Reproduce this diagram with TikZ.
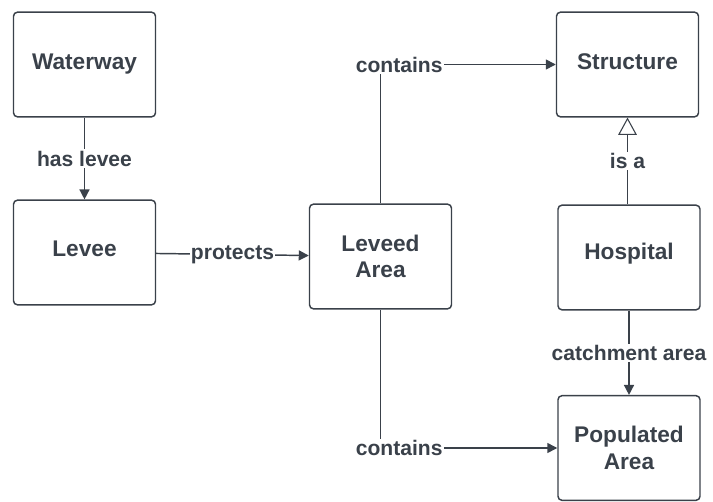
\documentclass[tikz,border=0pt]{standalone}
\usepackage{fontspec}
\setmainfont{Liberation Sans}
\usetikzlibrary{arrows.meta}
\definecolor{ink}{HTML}{3A414A}
\begin{document}
\begin{tikzpicture}[x=0.75pt,y=-0.75pt,
  box/.style={draw=ink, line width=1.1pt, rounded corners=3pt, minimum width=106.5pt, minimum height=78.5pt, align=center, text=ink, font=\fontsize{17}{20}\selectfont\bfseries},
  lbl/.style={fill=white, text=ink, inner sep=1pt, font=\fontsize{15.8}{18}\selectfont\bfseries},
  arr/.style={draw=ink, line width=1.1pt, -{Triangle[length=7.5pt,width=7.5pt]}},
  isa/.style={draw=ink, line width=1.1pt, -{Triangle[open,length=13pt,width=14pt,fill=white,line width=0.8pt]}},
  ln/.style={draw=ink, line width=1.1pt}]
\useasboundingbox (0,0) rectangle (713,502);
\node[box] (W) at (84.5,64.5) {Waterway};
\node[box] (L) at (84.5,252.5) {};
\node[text=ink, font=\fontsize{17}{20}\selectfont\bfseries] (Lt) at (84.5,249) {Levee};
\node[box] (LA) at (380.5,256.5) {Leveed\\Area};
\node[box] (S) at (627.5,64.5) {};
\node[text=ink, font=\fontsize{17}{20}\selectfont\bfseries] (St) at (627.5,62) {Structure};
\node[box] (H) at (629,257.5) {};
\node[text=ink, font=\fontsize{17}{20}\selectfont\bfseries] (Ht) at (629,254) {Hospital};
\node[box] (P) at (629,448) {Populated\\Area};
\draw[arr] (W) -- node[lbl] {has levee} (L);
\draw[arr] (L) -- node[lbl, pos=0.5] {protects} (LA);
\draw[arr] (LA.north) |- node[lbl, pos=0.5, xshift=14pt] {contains} (S.west);
\draw[arr] (LA.south) |- node[lbl, pos=0.5, xshift=14pt] {contains} (P.west);
\draw[isa] (H.north -| S.south) -- node[lbl] {is a} (S.south);
\draw[arr] (H) -- node[lbl] {catchment area} (P);
\end{tikzpicture}
\end{document}
